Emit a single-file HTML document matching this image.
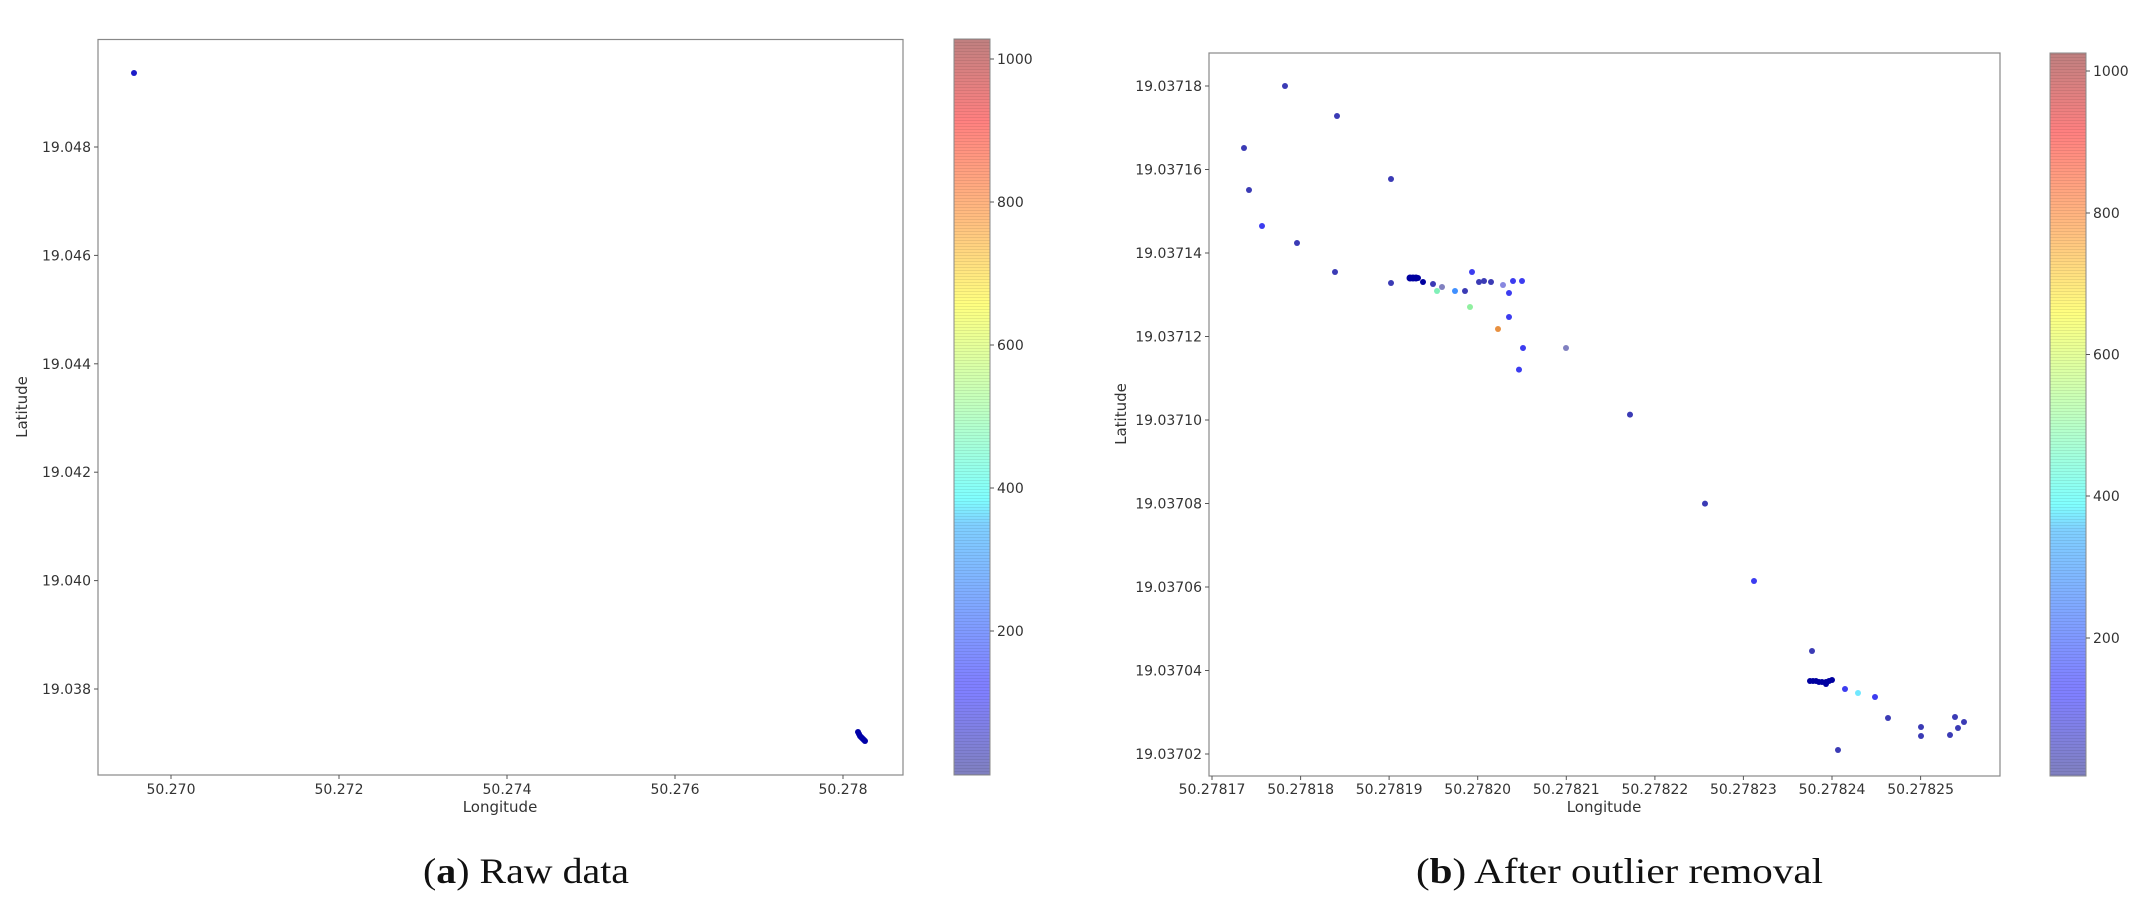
<!DOCTYPE html>
<html><head><meta charset="utf-8"><style>html,body{margin:0;padding:0;background:#fff}svg{display:block}</style></head>
<body>
<svg width="2144" height="904" viewBox="0 0 2144 904" xmlns="http://www.w3.org/2000/svg" font-family="'DejaVu Sans','Liberation Sans',sans-serif">
<defs>
<linearGradient id="jet" x1="0" y1="1" x2="0" y2="0">
<stop offset="0" stop-color="#8080bf"/>
<stop offset="0.11" stop-color="#8080ff"/>
<stop offset="0.125" stop-color="#8080ff"/>
<stop offset="0.34" stop-color="#80d0ff"/>
<stop offset="0.375" stop-color="#80ffff"/>
<stop offset="0.5" stop-color="#c0ffc0"/>
<stop offset="0.64" stop-color="#ffff80"/>
<stop offset="0.75" stop-color="#ffc080"/>
<stop offset="0.89" stop-color="#ff8080"/>
<stop offset="1" stop-color="#bf8080"/>
</linearGradient>
<pattern id="str" width="10" height="3" patternUnits="userSpaceOnUse"><rect y="0" width="10" height="1" fill="#000" opacity="0.08"/></pattern>
</defs>
<rect width="2144" height="904" fill="#fff"/>

<!-- LEFT PLOT -->
<g>
<rect x="98" y="39.5" width="805" height="735.5" fill="none" stroke="#888" stroke-width="1.2"/>
<g stroke="#555" stroke-width="1">
<line x1="94" y1="147" x2="98" y2="147"/><line x1="94" y1="255.4" x2="98" y2="255.4"/><line x1="94" y1="363.8" x2="98" y2="363.8"/><line x1="94" y1="472.2" x2="98" y2="472.2"/><line x1="94" y1="580.6" x2="98" y2="580.6"/><line x1="94" y1="689" x2="98" y2="689"/>
<line x1="171" y1="775" x2="171" y2="779"/><line x1="339" y1="775" x2="339" y2="779"/><line x1="507" y1="775" x2="507" y2="779"/><line x1="675" y1="775" x2="675" y2="779"/><line x1="843" y1="775" x2="843" y2="779"/>
</g>
<g font-size="14" fill="#333" text-anchor="end">
<text x="91" y="152">19.048</text><text x="91" y="260.4">19.046</text><text x="91" y="368.8">19.044</text><text x="91" y="477.2">19.042</text><text x="91" y="585.6">19.040</text><text x="91" y="694">19.038</text>
</g>
<g font-size="14" fill="#333" text-anchor="middle">
<text x="171" y="794">50.270</text><text x="339" y="794">50.272</text><text x="507" y="794">50.274</text><text x="675" y="794">50.276</text><text x="843" y="794">50.278</text>
</g>
<text x="500" y="812" font-size="15" fill="#333" text-anchor="middle">Longitude</text>
<text transform="translate(27,407) rotate(-90)" font-size="15" fill="#333" text-anchor="middle">Latitude</text>
<circle cx="134" cy="73" r="3" fill="#1c1cc8"/>
<g fill="#0000a8">
<circle cx="858" cy="732" r="3"/><circle cx="859" cy="734" r="3"/><circle cx="860" cy="736" r="3"/><circle cx="861" cy="737" r="3"/><circle cx="862" cy="738" r="3"/><circle cx="863" cy="739" r="3"/><circle cx="864" cy="740" r="3"/><circle cx="865" cy="741" r="3"/>
</g>
<rect x="954" y="39" width="36" height="736" fill="url(#jet)"/>
<rect x="954" y="39" width="36" height="736" fill="url(#str)"/>
<rect x="954" y="39" width="36" height="736" fill="none" stroke="#888" stroke-width="1"/>
<g stroke="#555"><line x1="990" y1="59" x2="994" y2="59"/><line x1="990" y1="202" x2="994" y2="202"/><line x1="990" y1="345" x2="994" y2="345"/><line x1="990" y1="488" x2="994" y2="488"/><line x1="990" y1="631" x2="994" y2="631"/></g>
<g font-size="14" fill="#333"><text x="997" y="64">1000</text><text x="997" y="207">800</text><text x="997" y="350">600</text><text x="997" y="493">400</text><text x="997" y="636">200</text></g>
</g>

<!-- RIGHT PLOT -->
<g>
<rect x="1209" y="53" width="791" height="723" fill="none" stroke="#888" stroke-width="1.2"/>
<g stroke="#555" stroke-width="1">
<line x1="1205" y1="86" x2="1209" y2="86"/><line x1="1205" y1="169.5" x2="1209" y2="169.5"/><line x1="1205" y1="253" x2="1209" y2="253"/><line x1="1205" y1="336.5" x2="1209" y2="336.5"/><line x1="1205" y1="420" x2="1209" y2="420"/><line x1="1205" y1="503.5" x2="1209" y2="503.5"/><line x1="1205" y1="587" x2="1209" y2="587"/><line x1="1205" y1="670.5" x2="1209" y2="670.5"/><line x1="1205" y1="754" x2="1209" y2="754"/>
<line x1="1212" y1="776" x2="1212" y2="780"/><line x1="1300.6" y1="776" x2="1300.6" y2="780"/><line x1="1389.1" y1="776" x2="1389.1" y2="780"/><line x1="1477.7" y1="776" x2="1477.7" y2="780"/><line x1="1566.3" y1="776" x2="1566.3" y2="780"/><line x1="1654.9" y1="776" x2="1654.9" y2="780"/><line x1="1743.4" y1="776" x2="1743.4" y2="780"/><line x1="1832" y1="776" x2="1832" y2="780"/><line x1="1920.6" y1="776" x2="1920.6" y2="780"/>
</g>
<g font-size="14" fill="#333" text-anchor="end">
<text x="1202" y="91">19.03718</text><text x="1202" y="174.5">19.03716</text><text x="1202" y="258">19.03714</text><text x="1202" y="341.5">19.03712</text><text x="1202" y="425">19.03710</text><text x="1202" y="508.5">19.03708</text><text x="1202" y="592">19.03706</text><text x="1202" y="675.5">19.03704</text><text x="1202" y="759">19.03702</text>
</g>
<g font-size="14" fill="#333" text-anchor="middle">
<text x="1212" y="794">50.27817</text><text x="1300.6" y="794">50.27818</text><text x="1389.1" y="794">50.27819</text><text x="1477.7" y="794">50.27820</text><text x="1566.3" y="794">50.27821</text><text x="1654.9" y="794">50.27822</text><text x="1743.4" y="794">50.27823</text><text x="1832" y="794">50.27824</text><text x="1920.6" y="794">50.27825</text>
</g>
<text x="1604" y="812" font-size="15" fill="#333" text-anchor="middle">Longitude</text>
<text transform="translate(1126,414) rotate(-90)" font-size="15" fill="#333" text-anchor="middle">Latitude</text>

<g fill="#3b3bb5">
<circle cx="1285" cy="86" r="3"/><circle cx="1337" cy="116" r="3"/><circle cx="1244" cy="148" r="3"/><circle cx="1391" cy="179" r="3"/><circle cx="1249" cy="190" r="3"/><circle cx="1297" cy="243" r="3"/><circle cx="1335" cy="272" r="3"/><circle cx="1391" cy="283" r="3"/><circle cx="1433" cy="284" r="3"/><circle cx="1465" cy="291" r="3"/><circle cx="1479" cy="282" r="3"/><circle cx="1484" cy="281" r="3"/><circle cx="1491" cy="282" r="3"/>
<circle cx="1630" cy="414.6" r="3"/><circle cx="1705" cy="503.6" r="3"/>
<circle cx="1812" cy="651" r="3"/><circle cx="1888" cy="718" r="3"/><circle cx="1921" cy="727" r="3"/><circle cx="1921" cy="736" r="3"/><circle cx="1955" cy="717" r="3"/><circle cx="1964" cy="722" r="3"/><circle cx="1958" cy="728" r="3"/><circle cx="1950" cy="735" r="3"/><circle cx="1838" cy="750" r="3"/>
</g>
<g fill="#3c3cf0">
<circle cx="1262" cy="226" r="3"/><circle cx="1472" cy="272" r="3"/><circle cx="1509" cy="293" r="3"/><circle cx="1513" cy="281" r="3"/><circle cx="1522" cy="281" r="3"/><circle cx="1509" cy="317" r="3"/><circle cx="1523" cy="348" r="3"/><circle cx="1519" cy="369.6" r="3"/><circle cx="1754" cy="581" r="3"/><circle cx="1845" cy="689" r="3"/><circle cx="1875" cy="697" r="3"/>
</g>
<g fill="#0000a0">
<circle cx="1410" cy="278" r="3.5"/><circle cx="1413" cy="278" r="3.5"/><circle cx="1416" cy="278" r="3.5"/><circle cx="1418" cy="278" r="3"/><circle cx="1423" cy="282" r="3"/>
<circle cx="1810" cy="681" r="3"/><circle cx="1813" cy="681" r="3"/><circle cx="1816" cy="681" r="3"/><circle cx="1819" cy="682" r="3"/><circle cx="1822" cy="682" r="3"/><circle cx="1826" cy="682" r="3"/><circle cx="1829" cy="681" r="3"/><circle cx="1832" cy="680" r="3"/><circle cx="1826" cy="684" r="3"/>
</g>
<circle cx="1442" cy="287" r="3" fill="#8080c0"/>
<circle cx="1503" cy="285" r="3" fill="#8888e0"/>
<circle cx="1566" cy="348" r="3" fill="#8080c0"/>
<circle cx="1437" cy="291" r="3" fill="#80f0b8"/>
<circle cx="1455" cy="291" r="3" fill="#4090ff"/>
<circle cx="1470" cy="307" r="3" fill="#90f0a0"/>
<circle cx="1498" cy="329" r="3" fill="#e89040"/>
<circle cx="1858" cy="693" r="3" fill="#70e8ff"/>

<rect x="2050" y="53" width="36" height="723" fill="url(#jet)"/>
<rect x="2050" y="53" width="36" height="723" fill="url(#str)"/>
<rect x="2050" y="53" width="36" height="723" fill="none" stroke="#888" stroke-width="1"/>
<g stroke="#555"><line x1="2086" y1="71" x2="2090" y2="71"/><line x1="2086" y1="213" x2="2090" y2="213"/><line x1="2086" y1="354.5" x2="2090" y2="354.5"/><line x1="2086" y1="496" x2="2090" y2="496"/><line x1="2086" y1="638" x2="2090" y2="638"/></g>
<g font-size="14" fill="#333"><text x="2093" y="76">1000</text><text x="2093" y="218">800</text><text x="2093" y="359.5">600</text><text x="2093" y="501">400</text><text x="2093" y="643">200</text></g>
</g>

<!-- captions -->
<g font-family="'Liberation Serif',serif" font-size="36" fill="#111">
<text x="423" y="883" textLength="206" lengthAdjust="spacingAndGlyphs">(<tspan font-weight="bold">a</tspan>) Raw data</text>
<text x="1416" y="883" textLength="407" lengthAdjust="spacingAndGlyphs">(<tspan font-weight="bold">b</tspan>) After outlier removal</text>
</g>
</svg>
</body></html>
